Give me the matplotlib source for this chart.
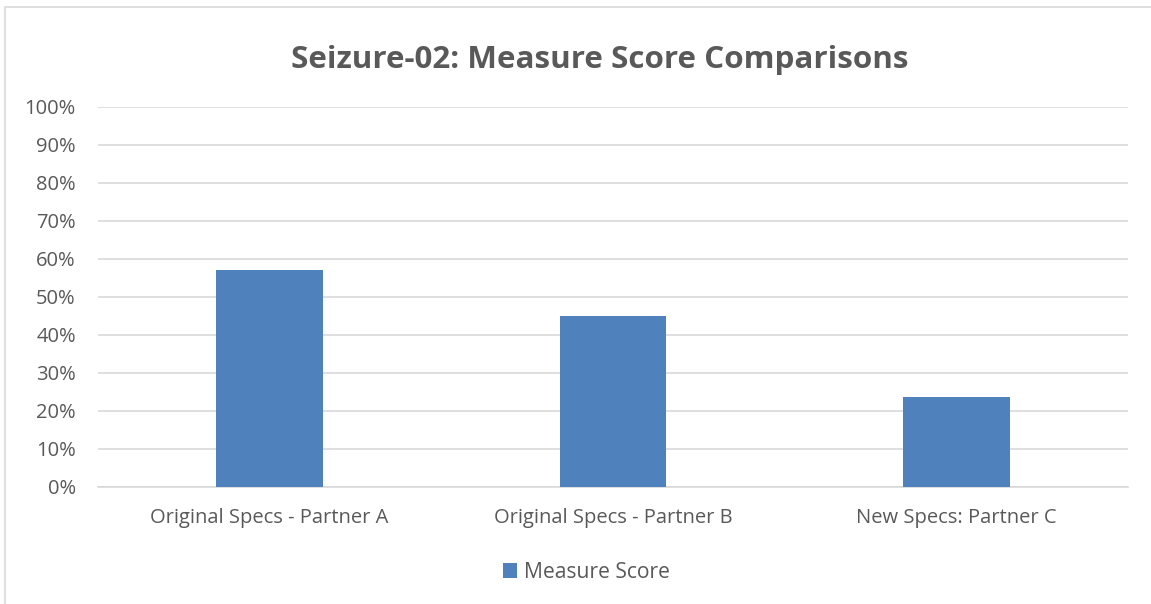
import matplotlib
matplotlib.use("Agg")
import matplotlib.pyplot as plt
from matplotlib.patches import Rectangle
from matplotlib.ticker import PercentFormatter, MultipleLocator

categories = ["Original Specs - Partner A", "Original Specs - Partner B", "New Specs: Partner C"]
values = [57.0, 45.0, 23.5]
series_name = "Measure Score"
title = "Seizure-02: Measure Score Comparisons"

W, H = 1151, 604
fig = plt.figure(figsize=(W / 100, H / 100), dpi=100)
plt.rcParams['font.family'] = ['Open Sans', 'DejaVu Sans']
txt = "#595959"

# outer chart border (only top and left visible)
fig.patches.append(Rectangle((5 / W, -0.2), 1.3, 1.2 - 7 / H, transform=fig.transFigure,
                             fill=False, edgecolor="#d9d9d9", linewidth=1.2))

left, right = 98 / W, 1128 / W
bottom, top = 1 - 486.7 / H, 1 - 106.7 / H
ax = fig.add_axes([left, bottom, right - left, top - bottom])

x = list(range(len(categories)))
ax.bar(x, values, width=0.31, color="#4f81bd", label=series_name, zorder=3)
ax.set_xlim(-0.5, len(categories) - 0.5)
ax.set_ylim(0, 100)
ax.yaxis.set_major_locator(MultipleLocator(10))
ax.yaxis.set_major_formatter(PercentFormatter(decimals=0))
ax.grid(axis="y", color="#d9d9d9", linewidth=1.2, zorder=0)
for s in ["top", "right", "left"]:
    ax.spines[s].set_visible(False)
ax.spines["bottom"].set_color("#d9d9d9")
ax.spines["bottom"].set_linewidth(1.2)
ax.set_xticks(x)
ax.set_xticklabels(categories)
ax.tick_params(axis="both", length=0, labelsize=14.5, labelcolor=txt)
ax.tick_params(axis="x", pad=15.5)
ax.tick_params(axis="y", pad=16)

fig.text(600 / W, 1 - 60 / H, title, ha="center", va="center", fontsize=22.6,
         fontweight="bold", color=txt)

leg = fig.legend(loc="center", bbox_to_anchor=(586 / W, 1 - 572 / H), frameon=False,
                 fontsize=15.2, handlelength=0.7, handleheight=0.7, handletextpad=0.3)
for t in leg.get_texts():
    t.set_color(txt)

fig.savefig("out.png", dpi=100)
